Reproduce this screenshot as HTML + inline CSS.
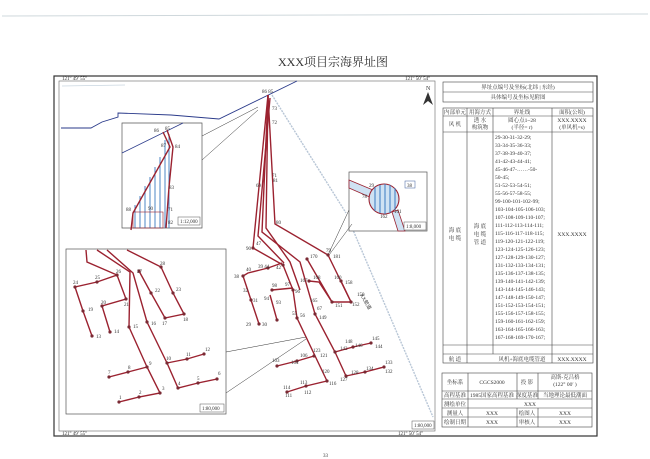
<!DOCTYPE html>
<html><head><meta charset="utf-8">
<style>
html,body{margin:0;padding:0;background:#fff;}
svg{display:block;}
text{font-family:"Liberation Serif","Noto Serif CJK SC",serif;fill:#333;}
.t{font-family:"Liberation Serif","Noto Sans CJK SC",sans-serif;font-size:5.5px;fill:#444;}
.lb{font-size:5px;fill:#333;font-family:"Liberation Serif",serif;}
.r{stroke:#9b2230;stroke-width:1.4;fill:none;}
.d{fill:#7a2a34;}
</style></head>
<body>
<svg width="650" height="459" viewBox="0 0 650 459" xmlns="http://www.w3.org/2000/svg">
<rect width="650" height="459" fill="#fff"/>
<line x1="2" y1="16" x2="648" y2="14" stroke="#cfd8dc" stroke-width="1"/>
<text x="333" y="66" font-size="12" text-anchor="middle" font-family="Liberation Serif,Noto Serif CJK SC,serif">XXX项目宗海界址图</text>

<!-- outer frame -->
<rect x="54" y="76" width="543" height="360" fill="none" stroke="#333" stroke-width="1.2"/>
<rect x="59" y="81" width="376" height="350" fill="none" stroke="#666" stroke-width="0.6"/>
<text x="62" y="80" class="lb">121° 49′ 55″</text>
<text x="405" y="80" class="lb">121° 50′ 54″</text>
<text x="62" y="435" class="lb">121° 49′ 55″</text>
<text x="398" y="435" class="lb">121° 50′ 54″</text>

<!-- coastline -->
<polyline points="61,128 91,128 102,122 118,117 118,113 171,115 219,119 297,81" fill="none" stroke="#2a3a8a" stroke-width="0.9"/>
<polyline points="62,86 125,85" fill="none" stroke="#c9d6e0" stroke-width="0.8"/>
<!-- gray channel lines -->
<polyline points="272,95 346,213" fill="none" stroke="#b8c6d6" stroke-width="1.4" stroke-dasharray="2,1"/>
<polyline points="350,223 433,417" fill="none" stroke="#b8c6d6" stroke-width="1.4" stroke-dasharray="2,1"/>
<polyline points="183,252 223,330" fill="none" stroke="#b8c6d6" stroke-width="1.4" stroke-dasharray="2,1"/>
<text x="360" y="295" class="lb" transform="rotate(60 360 295)">XX航道</text>
<text x="190" y="275" class="lb" transform="rotate(60 190 275)">XX航道</text>

<!-- north arrow -->
<text x="426" y="90" font-size="6">N</text>
<polygon points="428,92 423,105 428,101 433,105" fill="#333"/>

<!-- top-left inset -->
<polygon points="122,123 202,123 202,136 202,228 122,228" fill="#fff" stroke="#555" stroke-width="0.7"/>
<line x1="202" y1="136" x2="258" y2="107" stroke="#333" stroke-width="0.5"/>
<line x1="202" y1="160" x2="258" y2="110" stroke="#333" stroke-width="0.5"/>
<line x1="122" y1="153" x2="183" y2="123" stroke="#2a3a8a" stroke-width="0.8"/>
<g stroke="#3a7ac0" stroke-width="0.9">
<line x1="135" y1="205" x2="135" y2="228"/><line x1="140" y1="196" x2="140" y2="228"/>
<line x1="145" y1="186" x2="145" y2="228"/><line x1="150" y1="177" x2="150" y2="228"/>
<line x1="155" y1="167" x2="155" y2="228"/><line x1="160" y1="157" x2="160" y2="228"/>
<line x1="165" y1="140" x2="165" y2="228"/><line x1="169" y1="134" x2="169" y2="228"/>
</g>
<polyline points="163,132 170,147 133,213 131,230" class="r" stroke-width="0.9"/>
<polyline points="167,130 173,147 169,187 166,228" class="r" stroke-width="0.9"/>
<rect x="133" y="212" width="30" height="16" fill="none" stroke="#9b2230" stroke-width="0.6"/>
<text x="154" y="132" class="lb">86</text><text x="165" y="130" class="lb">85</text>
<text x="161" y="147" class="lb">87</text><text x="175" y="148" class="lb">84</text>
<text x="169" y="189" class="lb">83</text><text x="126" y="211" class="lb">88</text>
<text x="148" y="210" class="lb">90</text><text x="168" y="211" class="lb">71</text>
<text x="168" y="224" class="lb">82</text>
<rect x="178" y="217" width="22" height="8" fill="#fff" stroke="#555" stroke-width="0.5"/>
<text x="180" y="223" class="lb" font-size="4.5">1:12,000</text>

<!-- right inset -->
<rect x="349" y="172" width="78" height="59" fill="#fff" stroke="#555" stroke-width="0.7"/>
<line x1="349" y1="210" x2="328" y2="255" stroke="#333" stroke-width="0.5"/>
<line x1="352" y1="224" x2="329" y2="255" stroke="#333" stroke-width="0.5"/>
<polygon points="349,180 349,188 372,198 373,190" fill="#cfe2f3" stroke="#9b2230" stroke-width="0.8"/>
<circle cx="384" cy="199" r="15" fill="#cfe2f3" stroke="#9b2230" stroke-width="1.1"/>
<g stroke="#3a7ac0" stroke-width="1"><line x1="375" y1="187" x2="375" y2="211"/><line x1="380" y1="185" x2="380" y2="213"/><line x1="385" y1="184" x2="385" y2="214"/><line x1="390" y1="185" x2="390" y2="213"/><line x1="395" y1="188" x2="395" y2="210"/></g>
<polygon points="392,212 398,210 405,231 398,231" fill="#cfe2f3" stroke="#9b2230" stroke-width="0.8"/>
<rect x="405" y="181" width="10" height="7" fill="#fff" stroke="#3a5a9a" stroke-width="0.5"/>
<text x="407" y="187" class="lb">38</text>
<text x="369" y="187" class="lb">29</text><text x="362" y="198" class="lb">78</text>
<text x="380" y="218" class="lb">162</text><text x="394" y="213" class="lb">161</text>
<rect x="404" y="222" width="22" height="8" fill="#fff" stroke="#555" stroke-width="0.5"/>
<text x="406" y="228" class="lb" font-size="4.5">1:8,000</text>

<!-- main trunk -->
<g class="r">
<polyline points="268,95 253,248 283,265 293,290 297,318 327,381"/>
<polyline points="268,95 262,232 300,262 315,314 335,352 346,376"/>
<polyline points="268,95 275,224 328,255 351,302"/>
<polyline points="268,95 266,228 290,262 300,290"/>
<polyline points="270,98 258,236 284,263"/>
<polyline points="307,259 332,302 351,302"/>
<polyline points="243,276 248,273 260,270 268,268 282,263"/>
<polyline points="243,276 251,300 259,324"/>
<polyline points="272,290 293,288"/>
<polyline points="270,295 277,320"/>
<polyline points="309,281 319,282 332,302"/>
<polyline points="341,281 351,302"/>
<polyline points="335,352 353,347 371,343"/>
<polyline points="314,356 297,361 277,366"/>
<polyline points="346,376 365,372 384,367"/>
<polyline points="327,381 306,386 287,392"/>
</g>
<g class="d">
<circle cx="253" cy="248" r="1.6"/><circle cx="283" cy="265" r="1.6"/><circle cx="293" cy="290" r="1.6"/><circle cx="297" cy="318" r="1.6"/><circle cx="327" cy="381" r="1.6"/>
<circle cx="315" cy="314" r="1.6"/><circle cx="335" cy="352" r="1.6"/><circle cx="346" cy="376" r="1.6"/><circle cx="328" cy="255" r="1.6"/><circle cx="351" cy="302" r="1.6"/>
<circle cx="332" cy="302" r="1.6"/><circle cx="243" cy="276" r="1.6"/><circle cx="251" cy="300" r="1.6"/><circle cx="259" cy="324" r="1.6"/><circle cx="268" cy="268" r="1.6"/>
<circle cx="272" cy="290" r="1.6"/><circle cx="277" cy="320" r="1.6"/><circle cx="309" cy="281" r="1.6"/><circle cx="341" cy="281" r="1.6"/><circle cx="371" cy="343" r="1.6"/>
<circle cx="353" cy="347" r="1.6"/><circle cx="314" cy="356" r="1.6"/><circle cx="297" cy="361" r="1.6"/><circle cx="277" cy="366" r="1.6"/><circle cx="365" cy="372" r="1.6"/>
<circle cx="384" cy="367" r="1.6"/><circle cx="306" cy="386" r="1.6"/><circle cx="287" cy="392" r="1.6"/><circle cx="307" cy="259" r="1.6"/>
</g>
<g class="lb">
<text x="262" y="93">86 85</text><text x="272" y="110">73</text><text x="272" y="124">72</text><text x="272" y="177">71</text><text x="256" y="187">69</text><text x="273" y="182">81</text>
<text x="276" y="224">80</text><text x="246" y="250">90</text><text x="256" y="245">47</text><text x="326" y="252">79</text><text x="333" y="258">181</text>
<text x="310" y="258">170</text><text x="234" y="278">38</text><text x="246" y="271">40</text><text x="258" y="268">39 44</text><text x="276" y="269">42</text>
<text x="243" y="292">32</text><text x="253" y="302">31</text><text x="246" y="326">29</text><text x="262" y="326">30</text>
<text x="272" y="287">98</text><text x="264" y="300">94</text><text x="276" y="304">93</text><text x="285" y="286">97</text><text x="295" y="293">96</text>
<text x="300" y="282">167</text><text x="313" y="279">168</text><text x="334" y="279">160</text><text x="345" y="284">158</text>
<text x="310" y="302">165</text><text x="335" y="307">151</text><text x="352" y="306">152</text><text x="357" y="296">150</text>
<text x="292" y="315">55</text><text x="300" y="317">56</text><text x="317" y="310">67</text><text x="319" y="319">149</text>
<text x="340" y="350">142</text><text x="345" y="343">148</text><text x="355" y="347">146</text><text x="372" y="340">145</text><text x="375" y="348">144</text>
<text x="313" y="352">123</text><text x="320" y="357">121</text><text x="291" y="364">104</text><text x="272" y="362">103</text><text x="300" y="357">106</text>
<text x="351" y="374">128</text><text x="366" y="370">134</text><text x="385" y="364">133</text><text x="385" y="373">132</text><text x="340" y="381">127</text>
<text x="329" y="385">116</text><text x="322" y="373">120</text><text x="300" y="384">113</text><text x="283" y="389">114</text><text x="285" y="397">111</text><text x="304" y="394">112</text>
</g>

<!-- bottom-left inset -->
<rect x="66" y="249" width="160" height="165" fill="#fff" stroke="#555" stroke-width="0.7"/>
<line x1="226" y1="352" x2="306" y2="337" stroke="#333" stroke-width="0.5"/>
<line x1="226" y1="393" x2="306" y2="339" stroke="#333" stroke-width="0.5"/>
<g class="r">
<polyline points="86,250 87,262 117,275 97,282 75,287 83,311 92,336"/>
<polyline points="117,275 126,299 102,306 110,332"/>
<polyline points="97,250 130,272 129,327 147,367 160,393 139,397 119,402"/>
<polyline points="147,367 128,372 109,377"/>
<polyline points="107,250 133,273 147,322 167,363 178,388 198,383 217,379"/>
<polyline points="167,363 187,359 204,354"/>
<polyline points="127,250 161,267 173,293 184,314 165,318 151,293 139,271"/>
</g>
<g class="d">
<circle cx="75" cy="287" r="1.6"/><circle cx="97" cy="282" r="1.6"/><circle cx="117" cy="275" r="1.6"/><circle cx="83" cy="311" r="1.6"/><circle cx="92" cy="336" r="1.6"/>
<circle cx="102" cy="306" r="1.6"/><circle cx="126" cy="299" r="1.6"/><circle cx="110" cy="332" r="1.6"/><circle cx="129" cy="327" r="1.6"/><circle cx="147" cy="367" r="1.6"/>
<circle cx="160" cy="393" r="1.6"/><circle cx="139" cy="397" r="1.6"/><circle cx="119" cy="402" r="1.6"/><circle cx="128" cy="372" r="1.6"/><circle cx="109" cy="377" r="1.6"/>
<circle cx="147" cy="322" r="1.6"/><circle cx="167" cy="363" r="1.6"/><circle cx="178" cy="388" r="1.6"/><circle cx="198" cy="383" r="1.6"/><circle cx="217" cy="379" r="1.6"/>
<circle cx="187" cy="359" r="1.6"/><circle cx="204" cy="354" r="1.6"/><circle cx="161" cy="267" r="1.6"/><circle cx="173" cy="293" r="1.6"/><circle cx="184" cy="314" r="1.6"/>
<circle cx="165" cy="318" r="1.6"/><circle cx="151" cy="293" r="1.6"/><circle cx="139" cy="271" r="1.6"/>
</g>
<g class="lb">
<text x="73" y="284">24</text><text x="95" y="279">25</text><text x="116" y="273">26</text><text x="88" y="311">19</text><text x="96" y="338">13</text>
<text x="101" y="304">20</text><text x="124" y="306">21</text><text x="114" y="333">14</text><text x="133" y="328">15</text><text x="151" y="325">16</text>
<text x="137" y="273">27</text><text x="160" y="265">28</text><text x="155" y="292">22</text><text x="176" y="291">23</text><text x="162" y="325">17</text><text x="183" y="321">18</text>
<text x="166" y="360">10</text><text x="186" y="356">11</text><text x="205" y="351">12</text><text x="149" y="365">9</text><text x="128" y="369">8</text><text x="108" y="374">7</text>
<text x="178" y="385">4</text><text x="197" y="380">5</text><text x="218" y="375">6</text><text x="162" y="390">3</text><text x="139" y="394">2</text><text x="119" y="399">1</text>
</g>
<rect x="200" y="404" width="24" height="8" fill="#fff" stroke="#555" stroke-width="0.5"/>
<text x="202" y="410" class="lb" font-size="4.5">1:80,000</text>
<rect x="412" y="421" width="22" height="8" fill="#fff" stroke="#555" stroke-width="0.5"/>
<text x="414" y="427" class="lb" font-size="4.5">1:80,000</text>

<!-- top table -->
<g fill="none" stroke="#444" stroke-width="0.6">
<rect x="443" y="82" width="150" height="20"/>
<line x1="443" y1="92" x2="593" y2="92"/>
<rect x="443" y="108" width="150" height="255"/>
<line x1="443" y1="116" x2="593" y2="116"/>
<line x1="443" y1="132" x2="593" y2="132"/>
<line x1="443" y1="345" x2="593" y2="345"/>
<line x1="443" y1="354" x2="593" y2="354"/>
<line x1="467" y1="108" x2="467" y2="363"/>
<line x1="493" y1="108" x2="493" y2="354"/>
<line x1="552" y1="108" x2="552" y2="363"/>
</g>
<g class="t" text-anchor="middle">
<text x="518" y="89">界址点编号及坐标(北纬 | 东经)</text>
<text x="518" y="99">具体编号及坐标见附图</text>
<text x="455" y="114">内部单元</text><text x="480" y="114">用海方式</text><text x="522" y="114">界址线</text><text x="572" y="114">面积(公顷)</text>
<text x="455" y="126">风 机</text><text x="480" y="122">透 水</text><text x="480" y="129">构筑物</text>
<text x="522" y="122">圆心点1~28</text><text x="522" y="129">(半径= r)</text>
<text x="572" y="122">XXX.XXXX</text><text x="572" y="129">(单风机=s)</text>
<text x="455" y="232">海 底</text><text x="455" y="240">电 缆</text>
<text x="480" y="228">海 底</text><text x="480" y="236">电 缆</text><text x="480" y="244">管 道</text>
<text x="572" y="236">XXX.XXXX</text>
<text x="455" y="361">航 道</text><text x="522" y="361">风机+海底电缆管道</text><text x="572" y="361">XXX.XXXX</text>
</g>
<g class="t" font-size="5.2">
<text x="495" y="139">29-30-31-32-29;</text>
<text x="495" y="147">33-34-35-36-33;</text>
<text x="495" y="155">37-38-39-40-37;</text>
<text x="495" y="163">41-42-43-44-41;</text>
<text x="495" y="171">45-46-47-……-50-</text>
<text x="495" y="179">50-45;</text>
<text x="495" y="187">51-52-53-54-51;</text>
<text x="495" y="195">55-56-57-58-55;</text>
<text x="495" y="203">99-100-101-102-99;</text>
<text x="495" y="211">103-104-105-106-103;</text>
<text x="495" y="219">107-108-109-110-107;</text>
<text x="495" y="227">111-112-113-114-111;</text>
<text x="495" y="235">115-116-117-118-115;</text>
<text x="495" y="243">119-120-121-122-119;</text>
<text x="495" y="251">123-124-125-126-123;</text>
<text x="495" y="259">127-128-129-130-127;</text>
<text x="495" y="267">131-132-133-134-131;</text>
<text x="495" y="275">135-136-137-138-135;</text>
<text x="495" y="283">139-140-141-142-139;</text>
<text x="495" y="291">143-144-145-146-143;</text>
<text x="495" y="299">147-148-149-150-147;</text>
<text x="495" y="307">151-152-153-154-151;</text>
<text x="495" y="315">155-156-157-158-155;</text>
<text x="495" y="323">159-160-161-162-159;</text>
<text x="495" y="331">163-164-165-166-163;</text>
<text x="495" y="339">167-168-169-170-167;</text>
</g>

<!-- bottom table -->
<g fill="none" stroke="#444" stroke-width="0.6">
<rect x="442" y="373" width="150" height="54"/>
<line x1="442" y1="391" x2="592" y2="391"/>
<line x1="442" y1="399" x2="592" y2="399"/>
<line x1="442" y1="408" x2="592" y2="408"/>
<line x1="442" y1="417" x2="592" y2="417"/>
<line x1="468" y1="373" x2="468" y2="427"/>
<line x1="517" y1="373" x2="517" y2="399"/>
<line x1="538" y1="373" x2="538" y2="399"/>
<line x1="517" y1="408" x2="517" y2="427"/>
<line x1="538" y1="408" x2="538" y2="427"/>
</g>
<g class="t" text-anchor="middle" font-size="5">
<text x="455" y="384">坐标系</text><text x="492" y="384">CGCS2000</text><text x="527" y="384">投 影</text>
<text x="565" y="379">高斯-克吕格</text><text x="565" y="386">(122° 00′ )</text>
<text x="455" y="397">高程基准</text><text x="492" y="397">1985国家高程基准</text><text x="527" y="397">深度基准</text><text x="565" y="397">当地理论最低潮面</text>
<text x="455" y="406">测绘单位</text><text x="530" y="406">XXX</text>
<text x="455" y="415">测量人</text><text x="492" y="415">XXX</text><text x="527" y="415">绘图人</text><text x="565" y="415">XXX</text>
<text x="455" y="424">绘制日期</text><text x="492" y="424">XXX</text><text x="527" y="424">审核人</text><text x="565" y="424">XXX</text>
</g>
<text x="323" y="457" font-size="5" fill="#888">33</text>
</svg>
</body></html>
